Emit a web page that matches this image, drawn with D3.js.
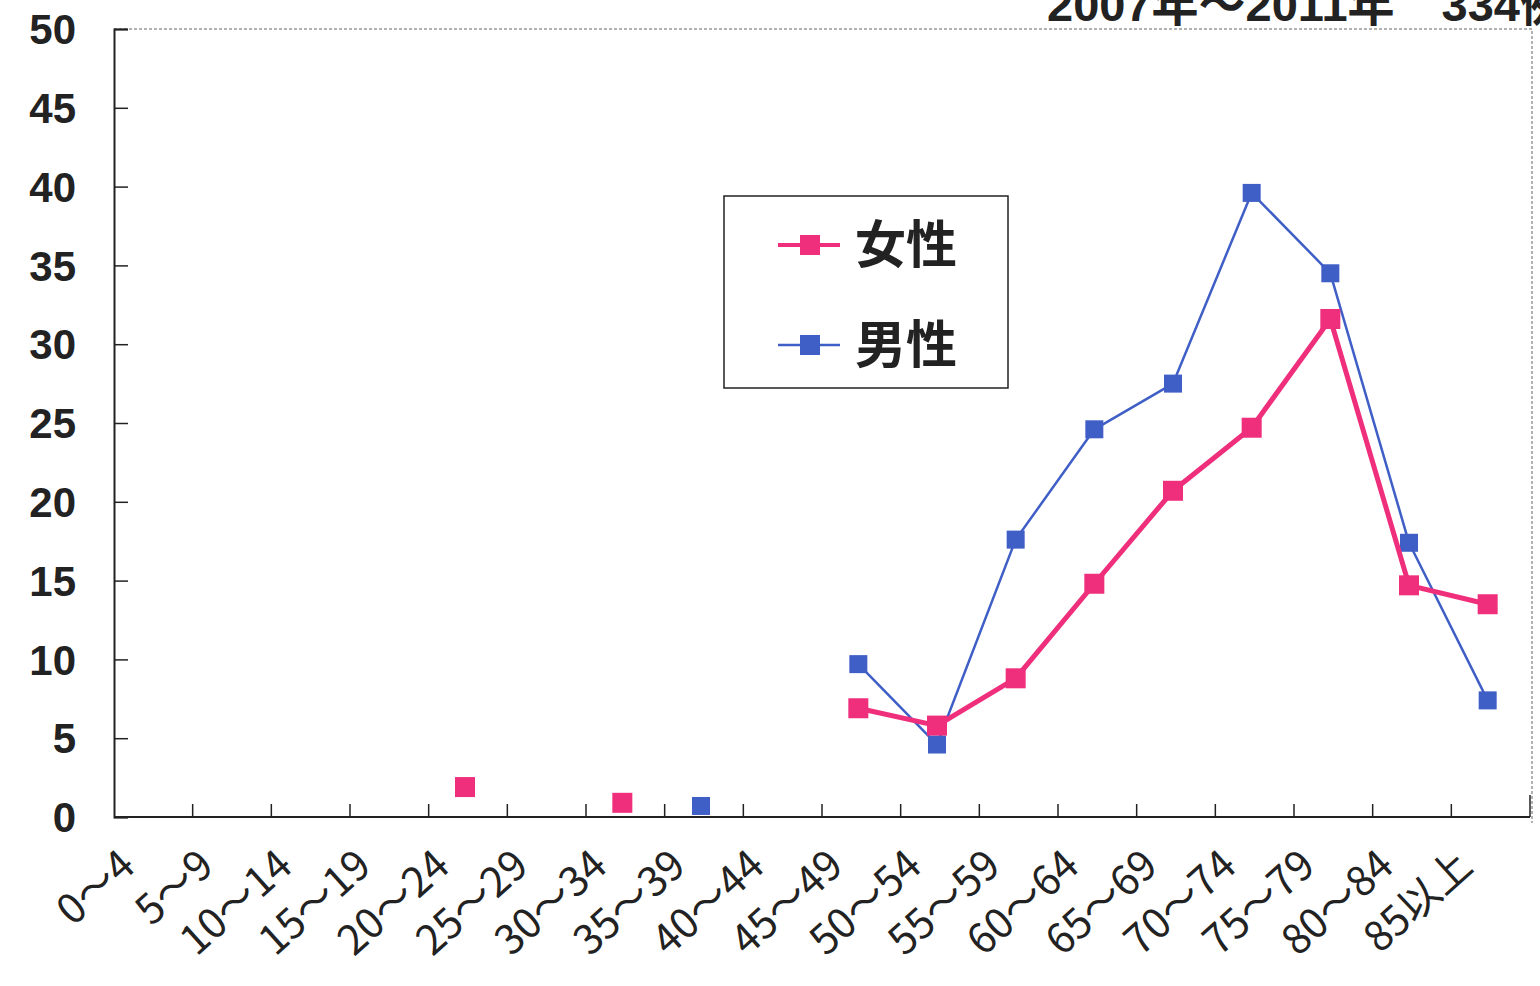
<!DOCTYPE html>
<html>
<head>
<meta charset="utf-8">
<script src="https://cdn.jsdelivr.net/npm/d3@7"></script>
<style>
  html, body { margin: 0; padding: 0; background: #ffffff; }
  svg { display: block; }
</style>
</head>
<body>
<svg id="chart" width="1540" height="986"></svg>
<script>
// Age groups along the x axis
const ageGroups = ["0〜4","5〜9","10〜14","15〜19","20〜24","25〜29","30〜34","35〜39","40〜44",
  "45〜49","50〜54","55〜59","60〜64","65〜69","70〜74","75〜79","80〜84","85以上"];
// Counts per age group (null = no cases)
const femaleValues = [null,null,null,null,1.9,null,0.9,null,null,6.9,5.8,8.8,14.8,20.7,24.7,31.6,14.7,13.5];
const maleValues   = [null,null,null,null,null,null,null,0.7,null,9.7,4.6,17.6,24.6,27.5,39.6,34.5,17.4,7.4];
const yTicks = [0,5,10,15,20,25,30,35,40,45,50];
const seriesNames = ["女性","男性"];
const titleText = "2007年〜2011年　334例";

const svg = d3.select("#chart");
const plotLeft = 114, plotRight = 1530, plotTop = 29, plotBottom = 817;

const x = d3.scaleBand().domain(ageGroups).range([plotLeft, plotRight]).padding(0);
const y = d3.scaleLinear().domain([0, 50]).range([plotBottom, plotTop]);

const pink = "#ef2f7c", blue = "#3f5fc6";

// Title (runs past the top and right edges)
svg.append("text")
  .attr("x", 1047).attr("y", 21)
  .attr("font-family", "'Liberation Sans', Arial, 'Noto Sans CJK JP', sans-serif")
  .attr("font-weight", "bold").attr("font-size", 47).attr("fill", "#222")
  .text(titleText);

// Dotted frame on top and right
svg.append("path")
  .attr("d", `M${plotLeft},${plotTop}H${plotRight + 2}V${plotBottom + 6}`)
  .attr("fill", "none").attr("stroke", "#999").attr("stroke-width", 1.5)
  .attr("stroke-dasharray", "3,2");

// Y axis
const yAxis = d3.axisRight(y).tickValues(yTicks).tickSize(14).tickFormat("");
const gy = svg.append("g").attr("transform", `translate(${plotLeft},0)`).call(yAxis);
gy.select(".domain").attr("stroke", "#222").attr("stroke-width", 2);
gy.selectAll(".tick line").attr("stroke", "#222").attr("stroke-width", 1.5);

svg.append("g").selectAll("text").data(yTicks).join("text")
  .attr("x", 76).attr("y", d => y(d)).attr("dy", "0.36em")
  .attr("text-anchor", "end")
  .attr("font-family", "'Liberation Sans', Arial, sans-serif")
  .attr("font-weight", "bold").attr("font-size", 42).attr("fill", "#222")
  .text(d => d);

// X axis: ticks at band boundaries pointing up
const boundaries = ageGroups.map(g => x(g)).concat([plotRight]);
svg.append("line").attr("x1", plotLeft).attr("x2", plotRight).attr("y1", plotBottom).attr("y2", plotBottom)
  .attr("stroke", "#222").attr("stroke-width", 2);
svg.append("g").selectAll("line").data(boundaries.slice(1)).join("line")
  .attr("x1", d => d).attr("x2", d => d)
  .attr("y1", plotBottom).attr("y2", (d, i) => i === boundaries.length - 2 ? plotBottom - 22 : plotBottom - 13)
  .attr("stroke", "#222").attr("stroke-width", 1.5);

// Rotated category labels
svg.append("g").selectAll("text").data(ageGroups).join("text")
  .attr("transform", d => `translate(${x(d) + x.bandwidth() / 2 - 16},${plotBottom + 52}) rotate(-42)`)
  .attr("text-anchor", "end")
  .attr("font-family", "'Noto Sans CJK JP', 'Noto Sans', sans-serif")
  .attr("font-size", 41).attr("fill", "#222")
  .text(d => d);

// Series lines and markers
function drawSeries(values, color, width, size) {
  const pts = ageGroups.map((g, i) => ({ g, v: values[i] }));
  const line = d3.line()
    .defined(d => d.v != null)
    .x(d => x(d.g) + x.bandwidth() / 2 - 3)
    .y(d => y(d.v));
  svg.append("path").datum(pts)
    .attr("d", line).attr("fill", "none")
    .attr("stroke", color).attr("stroke-width", width).attr("stroke-linejoin", "round");
  svg.append("g").selectAll("rect").data(pts.filter(d => d.v != null)).join("rect")
    .attr("x", d => x(d.g) + x.bandwidth() / 2 - 3 - size / 2)
    .attr("y", d => y(d.v) - size / 2)
    .attr("width", size).attr("height", size)
    .attr("fill", color);
}
drawSeries(maleValues, blue, 2.5, 18);
drawSeries(femaleValues, pink, 5, 20);

// Legend
const lg = svg.append("g");
lg.append("rect").attr("x", 724).attr("y", 196).attr("width", 284).attr("height", 192)
  .attr("fill", "#fff").attr("stroke", "#222").attr("stroke-width", 1.5);
const legendItems = [
  { name: seriesNames[0], color: pink, width: 4, y: 245 },
  { name: seriesNames[1], color: blue, width: 2.5, y: 345 }
];
legendItems.forEach(it => {
  lg.append("line").attr("x1", 778).attr("x2", 840).attr("y1", it.y).attr("y2", it.y)
    .attr("stroke", it.color).attr("stroke-width", it.width);
  lg.append("rect").attr("x", 800).attr("y", it.y - 10).attr("width", 20).attr("height", 20)
    .attr("fill", it.color);
  lg.append("text").attr("x", 855).attr("y", it.y).attr("dy", "0.36em")
    .attr("font-family", "'Noto Sans CJK JP', sans-serif").attr("font-weight", "bold")
    .attr("font-size", 51).attr("fill", "#222")
    .text(it.name);
});
</script>
</body>
</html>
